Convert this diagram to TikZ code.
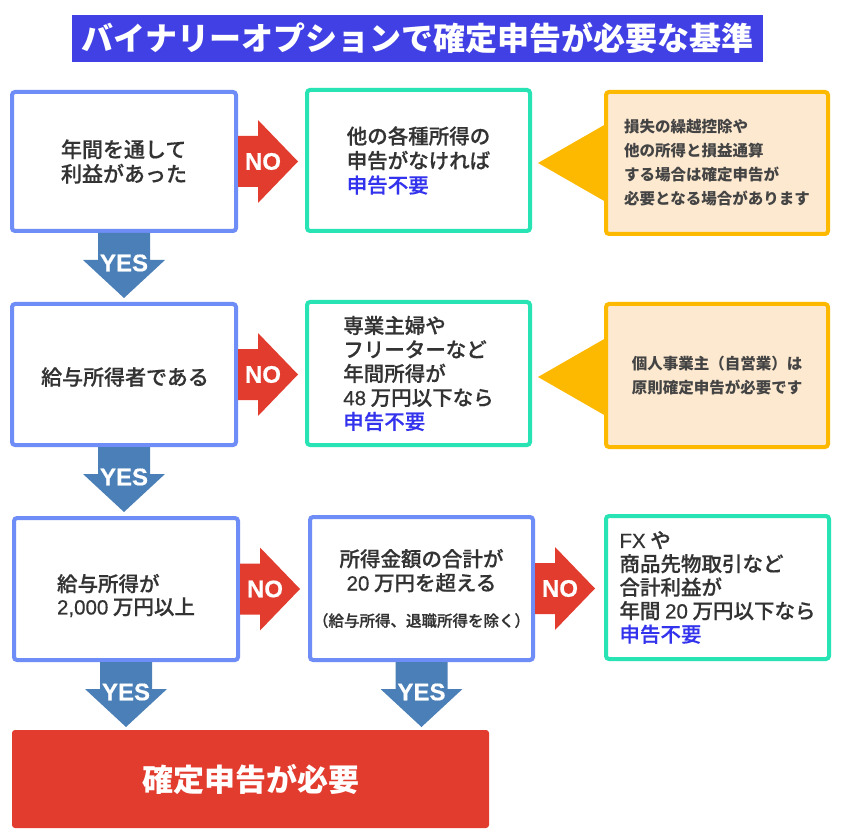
\documentclass[tikz,border=0pt]{standalone}
\usepackage{fontspec}
\newfontfamily\jp{Noto Sans CJK JP}
\newfontfamily\jpm{Noto Sans CJK JP Medium}[FakeBold=0.5]
\newfontfamily\lat{Liberation Sans}[FakeBold=0.5]
\newcommand{\ltn}[1]{{\lat #1}}
\definecolor{titleblue}{RGB}{64,64,228}
\definecolor{qblue}{RGB}{111,141,247}
\definecolor{qteal}{RGB}{40,228,180}
\definecolor{qorange}{RGB}{252,185,0}
\definecolor{qcream}{RGB}{253,233,208}
\definecolor{qred}{RGB}{226,60,46}
\definecolor{yesblue}{RGB}{74,128,183}
\definecolor{ngblue}{RGB}{51,51,238}
\definecolor{txt}{RGB}{51,51,51}
\tikzset{
  every node/.style={inner sep=0pt, outer sep=0pt},
  qbox/.style={draw=qblue, line width=4pt, rounded corners=3pt, fill=white,
    text=txt, align=left, font=\jpm\fontsize{21}{24.5}\selectfont},
  abox/.style={qbox, draw=qteal},
  btext/.style={text=txt, align=left, font=\jpm\fontsize{20.5}{23}\selectfont},
  cbox/.style={qbox, draw=qorange, fill=qcream, font=\jp\bfseries\fontsize{15.5}{24}\selectfont, text={rgb,255:red,68;green,68;blue,68}},
  arrtext/.style={text=white, font=\lat\bfseries\fontsize{24}{24}\selectfont},
  noarr/.pic={
    \fill[qred] (2,-25.5) -- (22,-25.5) -- (22,-41.5) -- (62,0) -- (22,41.5) -- (22,25.5) -- (2,25.5) -- cycle;
    \node[arrtext] (-t) at (27,0) {NO};
  },
  yesarr/.pic={
    \fill[yesblue] (-26,2) -- (-26,29) -- (-41,29) -- (0,67) -- (41,29) -- (26,29) -- (26,2) -- cycle;
    \node[arrtext] (-t) at (0,32) {YES};
  },
  callptr/.pic={
    \fill[qorange] (0,-39) -- (-68,0) -- (0,39) -- cycle;
  }
}
\begin{document}
\begin{tikzpicture}[x=1pt, y=-1pt]
\useasboundingbox (0,0) rectangle (844,837);
\fill[white] (0,0) rectangle (844,837);
% title
\node[fill=titleblue, minimum width=691pt, minimum height=47pt, text=white,
  font=\jp\bfseries\fontsize{32}{32}\selectfont] (title) at (417.5,38.5) {バイナリーオプションで確定申告が必要な基準};

% row 1
\node[qbox, minimum width=224pt, minimum height=139pt] (b1) at (124,161.5) {年間を通して\\利益があった};
\node[abox, minimum width=223pt, minimum height=141pt, font=\jpm\fontsize{20.5}{24.5}\selectfont] (b2) at (418.5,160.5) {他の各種所得の\\申告がなければ\\\textcolor{ngblue}{申告不要}};
\pic at (717-111,163) {callptr};
\node[cbox, minimum width=222pt, minimum height=142pt] (c1) at (717,163) {損失の繰越控除や\\他の所得と損益通算\\する場合は確定申告が\\必要となる場合があります};

% row 2
\node[qbox, minimum width=224pt, minimum height=141pt] (b3) at (124,374.5) {};
\node[btext, font=\jpm\fontsize{21}{24.5}\selectfont] (b3t) at (125,377) {給与所得者である};
\node[abox, minimum width=223pt, minimum height=143pt, font=\jpm\fontsize{20.5}{24}\selectfont] (b4) at (418.5,373.5) {専業主婦や\\フリーターなど\\年間所得が\\\ltn{48} 万円以下なら\\\textcolor{ngblue}{申告不要}};
\pic at (717-111,377) {callptr};
\node[cbox, minimum width=222pt, minimum height=143pt] (c2) at (717,375.5) {個人事業主（自営業）は\\原則確定申告が必要です};

% row 3
\node[qbox, minimum width=224pt, minimum height=142pt] (b5) at (126,589) {};
\node[btext] (b5t) at (126,595.5) {給与所得が\\\ltn{2,000} 万円以上};
\node[qbox, minimum width=223pt, minimum height=143pt, align=center, font=\jpm\fontsize{20.5}{24}\selectfont] (b6) at (421.5,588.5) {所得金額の合計が\\\ltn{20} 万円を超える\\[12pt]{\fontsize{15.5}{15.5}\selectfont （給与所得、退職所得を除く）}};
\node[abox, minimum width=223pt, minimum height=143pt, font=\jpm\fontsize{20.5}{23.5}\selectfont] (b7) at (717.5,587.5) {\ltn{FX} や\\商品先物取引など\\合計利益が\\年間 \ltn{20} 万円以下なら\\\textcolor{ngblue}{申告不要}};

% final
\node[fill=qred, rounded corners=3pt, minimum width=477pt, minimum height=98pt, text=white,
  font=\jp\bfseries\fontsize{31}{31}\selectfont] (fin) at (250.5,779) {確定申告が必要};

% arrows
\pic (n1) at (b1.east) {noarr};
\pic (n2) at (b3.east) {noarr};
\pic (n3) at (b5.east) {noarr};
\pic (n4) at (b6.east) {noarr};
\pic (y1) at (b1.south) {yesarr};
\pic (y2) at (b3.south) {yesarr};
\pic (y3) at (b5.south) {yesarr};
\pic (y4) at (b6.south) {yesarr};
\end{tikzpicture}
\end{document}
